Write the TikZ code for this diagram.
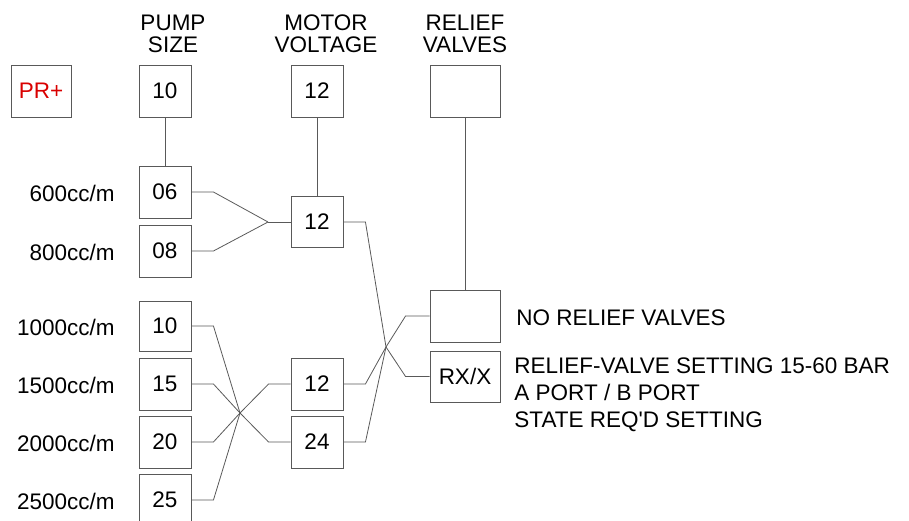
\documentclass[tikz,border=0pt]{standalone}
\usepackage{fontspec}
\setmainfont{Liberation Sans}
\usetikzlibrary{positioning,calc}
\tikzset{every picture/.style={line width=0.9pt}}
\tikzset{
  selbox/.style={draw=black!65, minimum width=52pt, minimum height=52pt, inner sep=0pt},
  valvebox/.style={selbox, minimum width=70pt},
  wire/.style={draw=black!65, line width=0.8pt},
  lbl/.style={anchor=east, inner sep=0pt},
  hdr/.style={align=center, font=\fontsize{22.5}{22}\selectfont},
}

\begin{document}
\begin{tikzpicture}[x=1pt, y=-1pt, font=\fontsize{22.5}{27}\selectfont]
    \useasboundingbox (0,0) rectangle (909,521);
    % column headers
    \node[hdr] (hpump) at (173,34) {PUMP\\SIZE};
    \node[hdr] (hmotor) at (326,34) {MOTOR\\VOLTAGE};
    \node[hdr] (hrelief) at (465,34) {RELIEF\\VALVES};
    % top row
    \node[selbox, minimum width=60pt, text=red!85!black] (pr) at (41,91) {PR+};
    \node[selbox] (ps) at (165,91) {10};
    \node[selbox] (mv) at (317,91) {12};
    \node[valvebox] (rv) at (465,91) {};
    % pump sizes
    \node[selbox] (p06) at (165,192) {06};
    \node[selbox] (p08) at (165,251) {08};
    \node[selbox, minimum height=50pt] (p10) at (165,326) {10};
    \node[selbox] (p15) at (165,384) {15};
    \node[selbox] (p20) at (165,442) {20};
    \node[selbox] (p25) at (165,500) {25};
    \node[lbl] (l06) at (115,193) {600cc/m};
    \node[lbl] (l08) at (115,252) {800cc/m};
    \node[lbl] (l10) at (115,327) {1000cc/m};
    \node[lbl] (l15) at (115,385) {1500cc/m};
    \node[lbl] (l20) at (115,443) {2000cc/m};
    \node[lbl] (l25) at (115,501) {2500cc/m};
    % motor voltages
    \node[selbox, minimum height=51pt] (m12a) at (317,222) {12};
    \node[selbox] (m12b) at (317,384) {12};
    \node[selbox] (m24) at (317,442) {24};
    % relief valves
    \node[valvebox] (rnone) at (465,316) {};
    \node[valvebox, minimum height=51pt] (rrx) at (465,376.5) {RX/X};
    \node[anchor=west, inner sep=0pt] (tnone) at (516,318) {NO RELIEF VALVES};
    \node[anchor=north west, align=left, inner sep=0pt] (trx) at (514,357)
        {RELIEF-VALVE SETTING 15-60 BAR\\ A PORT / B PORT\\ STATE REQ\textquotesingle D SETTING};
    % junctions
    \coordinate (j1) at (268,222);
    \coordinate (x1) at (240,413);
    \coordinate (x2) at (386,347);
    % wiring
    \draw[wire] (ps) -- (p06);
    \draw[wire] (mv) -- (m12a);
    \draw[wire] (rv) -- (rnone);
    \draw[wire] (p06.east) -- ++(22,0) -- (j1);
    \draw[wire] (p08.east) -- ++(22,0) -- (j1);
    \draw[wire] (j1) -- (m12a.west);
    \foreach \p in {p10,p15,p20,p25}
        \draw[wire] (\p.east) -- ++(22,0) -- (x1);
    \draw[wire] (x1) -- ([xshift=-22pt]m12b.west) -- (m12b.west);
    \draw[wire] (x1) -- ([xshift=-22pt]m24.west) -- (m24.west);
    \foreach \m in {m12a,m12b,m24}
        \draw[wire] (\m.east) -- ++(22,0) -- (x2);
    \draw[wire] (x2) -- ([xshift=-24pt]rnone.west) -- (rnone.west);
    \draw[wire] (x2) -- ([xshift=-24pt]rrx.west) -- (rrx.west);
\end{tikzpicture}
\end{document}
